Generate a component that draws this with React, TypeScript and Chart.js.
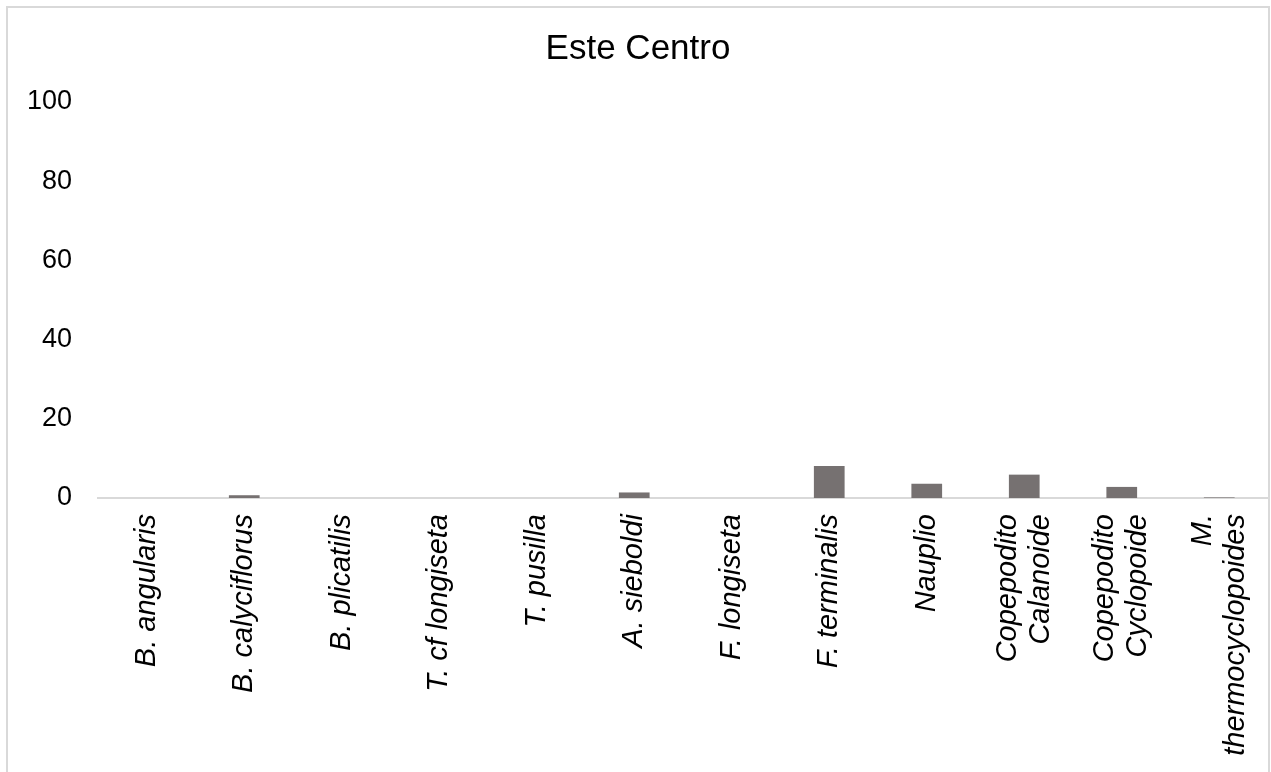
import React, { useEffect, useRef } from "react";
import { Chart, registerables } from "chart.js";

Chart.register(...registerables);

const categories: (string | string[])[] = [
  "B. angularis",
  "B. calyciflorus",
  "B. plicatilis",
  "T. cf longiseta",
  "T. pusilla",
  "A. sieboldi",
  "F. longiseta",
  "F. terminalis",
  "Nauplio",
  ["Copepodito", "Calanoide"],
  ["Copepodito", "Cyclopoide"],
  ["M.", "thermocyclopoides"],
];

const values: number[] = [0, 0.7, 0, 0, 0, 1.4, 0, 8.1, 3.6, 5.9, 2.8, 0.15];

const yTicks: number[] = [0, 20, 40, 60, 80, 100];

const titleText = "Este Centro";

const FONT = "'Liberation Sans', Arial, Helvetica, sans-serif";
const X_FONT_SIZE = 29;
const X_LINE_HEIGHT = 33;
const X_LABEL_PAD = 16;

const xLabelPlugin = {
  id: "centeredRotatedLabels",
  afterDraw(chart: any) {
    const scale = chart.scales.x;
    const ctx = chart.ctx;
    ctx.save();
    ctx.fillStyle = "#000000";
    ctx.font = `italic normal ${X_FONT_SIZE}px ${FONT}`;
    ctx.textAlign = "right";
    ctx.textBaseline = "middle";
    const labels = chart.data.labels as (string | string[])[];
    labels.forEach((lab, i) => {
      const lines = Array.isArray(lab) ? lab : [lab];
      const px = scale.getPixelForTick(i);
      const n = lines.length;
      lines.forEach((line, j) => {
        const x = px + (j - (n - 1) / 2) * X_LINE_HEIGHT;
        const y = scale.top + X_LABEL_PAD;
        ctx.save();
        ctx.translate(x, y);
        ctx.rotate(-Math.PI / 2);
        ctx.fillText(line, 0, 0);
        ctx.restore();
      });
    });
    ctx.restore();
  },
};

export default function App() {
  const ref = useRef<HTMLCanvasElement | null>(null);

  useEffect(() => {
    document.documentElement.style.overflow = "hidden";
    const canvas = ref.current;
    if (!canvas) return;
    const chart = new Chart(canvas, {
      type: "bar",
      data: {
        labels: categories,
        datasets: [
          {
            data: values,
            backgroundColor: "#767171",
            borderWidth: 0,
            categoryPercentage: 1,
            barPercentage: 0.315,
          },
        ],
      },
      plugins: [xLabelPlugin],
      options: {
        responsive: false,
        animation: false,
        devicePixelRatio: 1,
        layout: { padding: { left: 8, right: 3, top: 0, bottom: 0 } },
        plugins: {
          legend: { display: false },
          tooltip: { enabled: false },
          title: {
            display: true,
            text: titleText,
            color: "#000000",
            font: { family: FONT, size: 35, weight: "normal" },
            padding: { top: 28, bottom: 32 },
          },
        },
        scales: {
          x: {
            grid: { display: false, drawTicks: false },
            border: { display: true, color: "#d9d9d9", width: 2 },
            ticks: {
              display: false,
              autoSkip: false,
            },
            afterFit: (s: any) => {
              s.height = 274;
              s.paddingLeft = 0;
              s.paddingRight = 0;
            },
          },
          y: {
            min: 0,
            max: 100,
            afterBuildTicks: (s: any) => {
              s.ticks = yTicks.map((v) => ({ value: v }));
            },
            grid: { display: false, drawTicks: false },
            border: { display: false },
            ticks: {
              color: "#000000",
              padding: 26,
              font: { family: FONT, size: 27 },
            },
            afterFit: (s: any) => {
              s.width = 90;
              s.paddingTop = 0;
              s.paddingBottom = 0;
            },
          },
        },
      },
    });
    return () => chart.destroy();
  }, []);

  return (
    <div style={{ position: "fixed", left: 0, top: 0, width: 1271, height: 772, background: "#fff" }}>
      <div
        style={{
          position: "absolute",
          left: 6,
          top: 6,
          width: 1264,
          height: 820,
          boxSizing: "border-box",
          border: "2px solid #d9d9d9",
        }}
      />
      <canvas
        ref={ref}
        width={1271}
        height={772}
        style={{ position: "absolute", left: 0, top: 0, width: 1271, height: 772 }}
      />
    </div>
  );
}
